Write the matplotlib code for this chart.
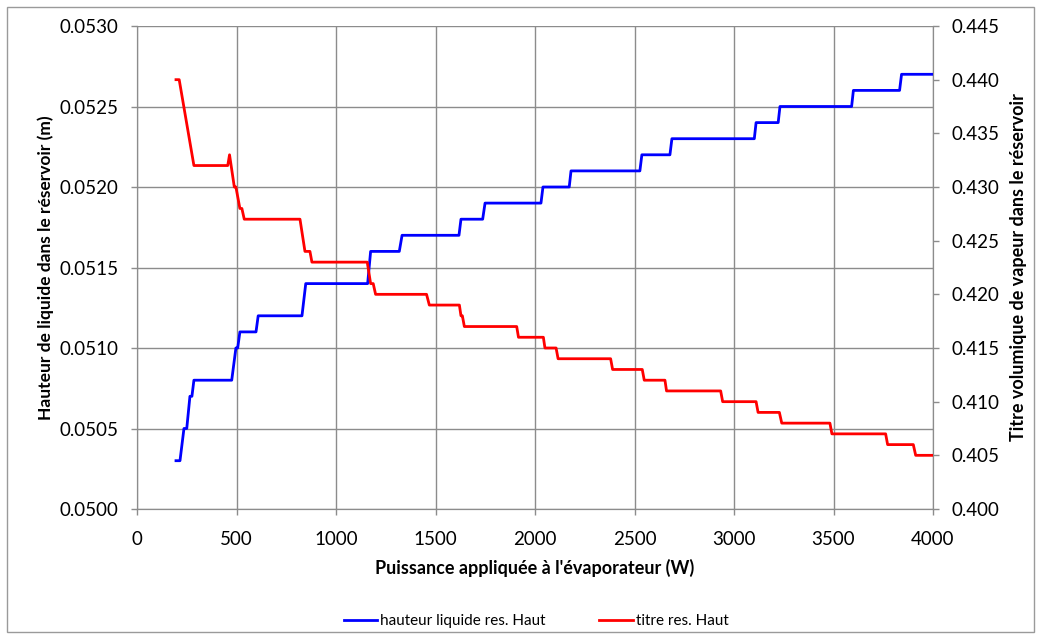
import matplotlib
matplotlib.use("Agg")
import matplotlib.pyplot as plt
from matplotlib.patches import Rectangle

plt.rcParams['font.family'] = ['Lato', 'DejaVu Sans']

# puissance (W) / hauteur liquide (m)
x_haut = [196, 216, 236, 250, 266, 276, 286, 476, 497, 506, 517, 598, 609, 829, 848,
          1159, 1174, 1318, 1332, 1618, 1628, 1737, 1749, 2030, 2040, 2172, 2181,
          2527, 2537, 2678, 2688, 3102, 3111, 3222, 3231, 3591, 3600, 3832, 3842, 4000]
h_haut = [0.0503, 0.0503, 0.0505, 0.0505, 0.0507, 0.0507, 0.0508, 0.0508, 0.0510, 0.0510,
          0.0511, 0.0511, 0.0512, 0.0512, 0.0514, 0.0514, 0.0516, 0.0516, 0.0517, 0.0517,
          0.0518, 0.0518, 0.0519, 0.0519, 0.0520, 0.0520, 0.0521, 0.0521, 0.0522, 0.0522,
          0.0523, 0.0523, 0.0524, 0.0524, 0.0525, 0.0525, 0.0526, 0.0526, 0.0527, 0.0527]

# puissance (W) / titre volumique
x_titre = [196, 212, 286, 456, 465, 489, 497, 517, 527, 539, 819, 844, 869, 879, 1157,
           1174, 1187, 1199, 1455, 1469, 1620, 1628, 1635, 1645, 1908, 1917, 2042, 2050,
           2106, 2116, 2380, 2390, 2539, 2549, 2653, 2661, 2933, 2943, 3111, 3121, 3228,
           3240, 3482, 3492, 3762, 3772, 3901, 3913, 4000]
t_titre = [0.440, 0.440, 0.432, 0.432, 0.433, 0.430, 0.430, 0.428, 0.428, 0.427, 0.427,
           0.424, 0.424, 0.423, 0.423, 0.421, 0.421, 0.420, 0.420, 0.419, 0.419, 0.418,
           0.418, 0.417, 0.417, 0.416, 0.416, 0.415, 0.415, 0.414, 0.414, 0.413, 0.413,
           0.412, 0.412, 0.411, 0.411, 0.410, 0.410, 0.409, 0.409, 0.408, 0.408, 0.407,
           0.407, 0.406, 0.406, 0.405, 0.405]

x_ticks = [0, 500, 1000, 1500, 2000, 2500, 3000, 3500, 4000]
y1_ticks = [0.0500, 0.0505, 0.0510, 0.0515, 0.0520, 0.0525, 0.0530]
y2_ticks = [0.400, 0.405, 0.410, 0.415, 0.420, 0.425, 0.430, 0.435, 0.440, 0.445]

gris = '#8c8c8c'

fig = plt.figure(figsize=(10.41, 6.38), dpi=100)
fig.patches.append(Rectangle((0.007, 0.009), 0.986, 0.98, transform=fig.transFigure,
                             fill=False, edgecolor='#9a9a9a', lw=1))

ax = fig.add_axes([137/1041, 1-509/638, 796/1041, 483/638])
ax2 = ax.twinx()

l1, = ax.plot(x_haut, h_haut, color='#0000ff', lw=2.0, label='hauteur liquide res. Haut', zorder=3)
l2, = ax2.plot(x_titre, t_titre, color='#ff0000', lw=2.0, label='titre res. Haut', zorder=3)

ax.set_xlim(0, 4000)
ax.set_ylim(0.0500, 0.0530)
ax2.set_ylim(0.400, 0.445)
ax.set_xticks(x_ticks)
ax.set_yticks(y1_ticks)
ax2.set_yticks(y2_ticks)
ax.set_yticklabels(['%.4f' % v for v in y1_ticks])
ax2.set_yticklabels(['%.3f' % v for v in y2_ticks])

ax.grid(True, color=gris, lw=1)
ax.set_axisbelow(True)
for a in (ax, ax2):
    for s in a.spines.values():
        s.set_color(gris)
    a.spines['top'].set_visible(False)
    a.tick_params(colors=gris, labelcolor='black', labelsize=13.5, length=4.5, width=1, pad=9)
ax.tick_params(axis='x', pad=11)

ax.set_xlabel("Puissance appliquée à l'évaporateur (W)", fontsize=13, fontweight='bold', labelpad=8)
ax.set_ylabel('Hauteur de liquide dans le réservoir (m)', fontsize=12.5, fontweight='bold', labelpad=4)
ax2.set_ylabel('Titre volumique de vapeur dans le réservoir', fontsize=13, fontweight='bold', labelpad=7)

fig.legend(handles=[l1, l2], loc='center', bbox_to_anchor=(0.515, 0.026), ncol=2, frameon=False,
           fontsize=11, handlelength=2.2, handletextpad=0.2, columnspacing=3.5)

fig.savefig('out.png', dpi=100)
